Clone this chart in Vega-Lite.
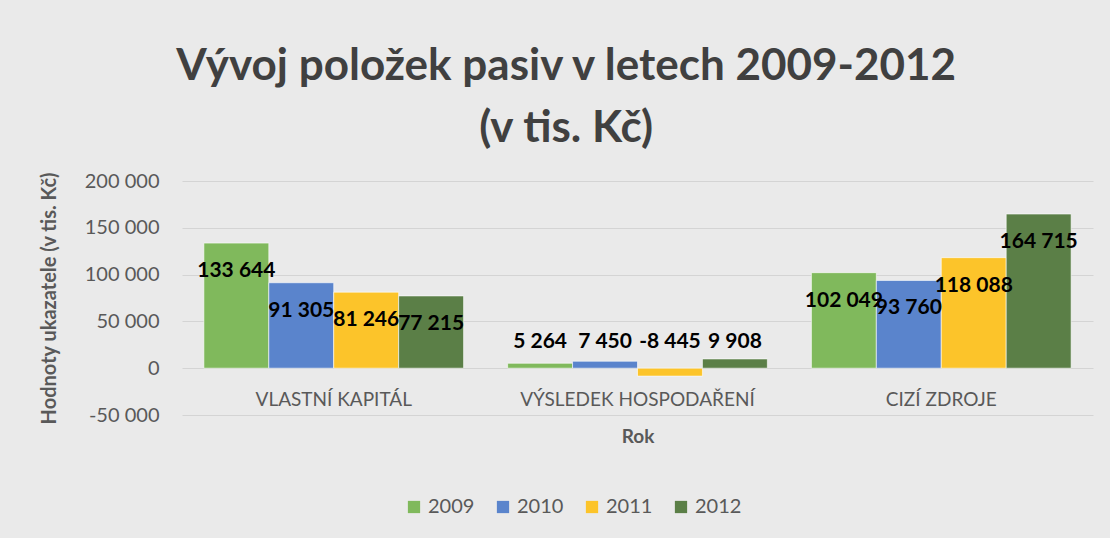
{
  "$schema": "https://vega.github.io/schema/vega-lite/v6.json",
  "width": 911,
  "height": 234,
  "autosize": {"type": "none"},
  "padding": {"left": 182, "top": 181, "right": 17, "bottom": 123},
  "background": "#eaeaea",
  "config": {
    "locale": {"number": {"decimal": ",", "thousands": " ", "grouping": [3], "currency": ["", ""], "minus": "-"}},
    "font": "Lato",
    "view": {"stroke": null}
  },
  "title": {
    "text": ["Vývoj položek pasiv v letech 2009-2012", "(v tis. Kč)"],
    "font": "Lato",
    "fontSize": 44,
    "fontWeight": "bold",
    "color": "#404040",
    "anchor": "middle",
    "frame": "bounds",
    "lineHeight": 62,
    "offset": 20
  },
  "data": {
    "values": [
      {"category": "VLASTNÍ KAPITÁL", "year": "2009", "value": 133644},
      {"category": "VLASTNÍ KAPITÁL", "year": "2010", "value": 91305},
      {"category": "VLASTNÍ KAPITÁL", "year": "2011", "value": 81246},
      {"category": "VLASTNÍ KAPITÁL", "year": "2012", "value": 77215},
      {"category": "VÝSLEDEK HOSPODAŘENÍ", "year": "2009", "value": 5264},
      {"category": "VÝSLEDEK HOSPODAŘENÍ", "year": "2010", "value": 7450},
      {"category": "VÝSLEDEK HOSPODAŘENÍ", "year": "2011", "value": -8445},
      {"category": "VÝSLEDEK HOSPODAŘENÍ", "year": "2012", "value": 9908},
      {"category": "CIZÍ ZDROJE", "year": "2009", "value": 102049},
      {"category": "CIZÍ ZDROJE", "year": "2010", "value": 93760},
      {"category": "CIZÍ ZDROJE", "year": "2011", "value": 118088},
      {"category": "CIZÍ ZDROJE", "year": "2012", "value": 164715}
    ]
  },
  "encoding": {
    "x": {
      "field": "category",
      "type": "nominal",
      "sort": ["VLASTNÍ KAPITÁL", "VÝSLEDEK HOSPODAŘENÍ", "CIZÍ ZDROJE"],
      "scale": {"paddingInner": 0.145, "paddingOuter": 0.072},
      "title": "Rok",
      "axis": {
        "labelAngle": 0,
        "labelFontSize": 19,
        "labelColor": "#595959",
        "labelPadding": -25,
        "labelLimit": 500,
        "ticks": false,
        "domain": false,
        "grid": false,
        "titleFontSize": 19,
        "titleFontWeight": "bold",
        "titleColor": "#595959",
        "titlePadding": 12
      }
    },
    "xOffset": {"field": "year", "type": "nominal", "scale": {"paddingInner": 0, "paddingOuter": 0}}
  },
  "layer": [
    {
      "mark": {"type": "bar", "stroke": "#ffffff", "strokeOpacity": 0.6, "strokeWidth": 1},
      "encoding": {
        "y": {
          "field": "value",
          "type": "quantitative",
          "scale": {"domain": [-50000, 200000], "nice": false, "zero": false},
          "title": "Hodnoty ukazatele (v tis. Kč)",
          "axis": {
            "values": [-50000, 0, 50000, 100000, 150000, 200000],
            "format": ",d",
            "labelFontSize": 20,
            "labelColor": "#595959",
            "labelPadding": 23,
            "ticks": false,
            "domain": false,
            "gridColor": "#d4d4d4",
            "titleFontSize": 20,
            "titleFontWeight": "bold",
            "titleColor": "#595959",
            "titlePadding": 25
          }
        },
        "color": {
          "field": "year",
          "type": "nominal",
          "scale": {"range": ["#80b95c", "#5a84cc", "#fcc42a", "#5b7f47"]},
          "legend": {
            "orient": "none",
            "legendX": 222,
            "legendY": 316,
            "padding": 0,
            "direction": "horizontal",
            "title": null,
            "symbolType": "square",
            "symbolSize": 150,
            "symbolStrokeWidth": 0,
            "labelFontSize": 20,
            "labelColor": "#595959",
            "columnPadding": 18
          }
        }
      }
    },
    {
      "mark": {"type": "rule", "color": "#404040", "strokeWidth": 3},
      "encoding": {"y": {"datum": 0}}
    },
    {
      "transform": [{"filter": "datum.category !== 'VÝSLEDEK HOSPODAŘENÍ'"}],
      "mark": {"type": "text", "dy": 28, "font": "Lato", "fontSize": 21, "fontWeight": "bold", "color": "#000000", "baseline": "middle"},
      "encoding": {
        "y": {"field": "value", "type": "quantitative"},
        "text": {"field": "value", "type": "quantitative", "format": ",d"}
      }
    },
    {
      "transform": [{"filter": "datum.category === 'VÝSLEDEK HOSPODAŘENÍ'"}],
      "mark": {"type": "text", "dy": -26, "font": "Lato", "fontSize": 21, "fontWeight": "bold", "color": "#000000", "baseline": "middle"},
      "encoding": {
        "y": {"datum": 0},
        "text": {"field": "value", "type": "quantitative", "format": ",d"}
      }
    }
  ]
}
